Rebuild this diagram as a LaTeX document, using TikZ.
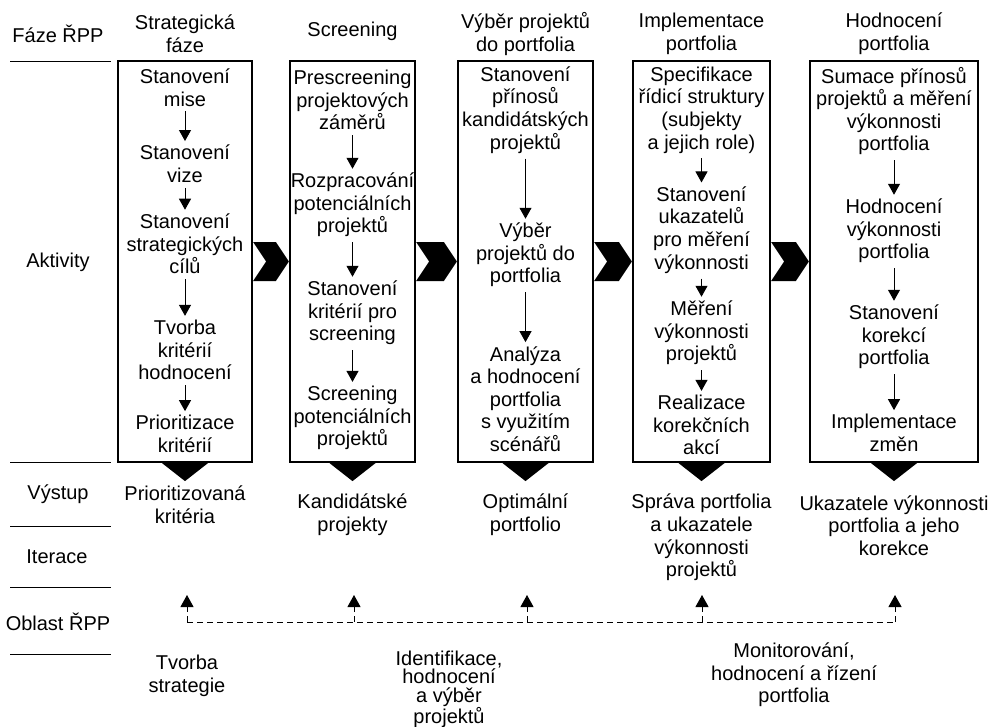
\documentclass[tikz,border=0pt]{standalone}
\usepackage{fontspec}
\setmainfont{Liberation Sans}
\usetikzlibrary{arrows.meta,calc}
\begin{document}
\begin{tikzpicture}[x=1pt,y=-1pt,
  txt/.style={align=center,inner sep=0pt,font=\fontsize{20}{22.6}\selectfont},
  tighttxt/.style={align=center,inner sep=0pt,font=\fontsize{20}{18.5}\selectfont},
  stage/.style={draw,line width=2.2pt,inner sep=0pt},
  flow/.style={line width=1pt,-{Triangle[width=12pt,length=11pt]},shorten <=5pt,shorten >=4pt},
  sepline/.style={line width=1pt},
  fb/.style={line width=1pt,dash pattern=on 6pt off 4pt},
  fbarrow/.style={fb,-{Triangle[width=13pt,length=12pt]}}
]
\useasboundingbox (0,0) rectangle (992,727);

% left column
\node[txt] (h0) at (58,34) {Fáze ŘPP};
\node[txt] (l1) at (58,262) {Aktivity};
\node[txt] (l2) at (58,494) {Výstup};
\node[txt] (l3) at (57,557) {Iterace};
\node[txt] (l4) at (58,622) {Oblast ŘPP};
\draw[sepline] (10,62) -- (111,62);
\draw[sepline] (10,462) -- (111,462);
\draw[sepline] (10,526) -- (111,526);
\draw[sepline] (10,587) -- (111,587);
\draw[sepline] (10,654) -- (111,654);

% headers
\node[txt] (h1) at (185,34) {Strategická\\fáze};
\node[txt] (h2) at (352.5,31) {Screening};
\node[txt] (h3) at (525.5,34) {Výběr projektů\\do portfolia};
\node[txt] (h4) at (701.5,34) {Implementace\\portfolia};
\node[txt] (h5) at (894,34) {Hodnocení\\portfolia};

% boxes
\node[stage,minimum width=134pt,minimum height=401pt] (b1) at (185,261.5) {};
\node[stage,minimum width=125pt,minimum height=401pt] (b2) at (352.5,261.5) {};
\node[stage,minimum width=135pt,minimum height=401pt] (b3) at (525.5,261.5) {};
\node[stage,minimum width=137pt,minimum height=401pt] (b4) at (701.5,261.5) {};
\node[stage,minimum width=168pt,minimum height=401pt] (b5) at (894,261.5) {};

% chevrons
\foreach \p/\q in {b1/b2,b2/b3,b3/b4,b4/b5}{
  \fill ($(\p.east)+(0,-19.5)$) -- ($(\q.west)+(-13,-19.5)$) -- (\q.west)
        -- ($(\q.west)+(-13,19.5)$) -- ($(\p.east)+(0,19.5)$) -- ($(\p.east)+(13,0)$) -- cycle;
}

% output triangles
\foreach \b in {b1,b2,b3,b4,b5}{
  \fill (\b.south) ++(-23,0) -- ++(46,0) -- ++(-23,18) -- cycle;
}

% box 1
\node[txt] (a1) at (185,87.5) {Stanovení\\mise};
\node[txt] (a2) at (185,164) {Stanovení\\vize};
\node[txt] (a3) at (185,244) {Stanovení\\strategických\\cílů};
\node[txt] (a4) at (185,350) {Tvorba\\kritérií\\hodnocení};
\node[txt] (a5) at (185,434) {Prioritizace\\kritérií};
\draw[flow] (a1) -- (a2);
\draw[flow] (a2) -- (a3);
\draw[flow] (a3) -- (a4);
\draw[flow] (a4) -- (a5);

% box 2
\node[txt] (s1) at (352.5,100) {Prescreening\\projektových\\záměrů};
\node[txt] (s2) at (352.5,205) {Rozpracování\\potenciálních\\projektů};
\node[txt] (s3) at (352.5,313) {Stanovení\\kritérií pro\\screening};
\node[txt] (s4) at (352.5,418) {Screening\\potenciálních\\projektů};
\draw[flow] (s1) -- (s2);
\draw[flow] (s2) -- (s3);
\draw[flow] (s3) -- (s4);

% box 3
\node[txt] (v1) at (525.5,110) {Stanovení\\přínosů\\kandidátských\\projektů};
\node[txt] (v2) at (525.5,255) {Výběr\\projektů do\\portfolia};
\node[txt] (v3) at (525.5,399) {Analýza\\a hodnocení\\portfolia\\s využitím\\scénářů};
\draw[flow] (v1) -- (v2);
\draw[flow] (v2) -- (v3);

% box 4
\node[txt] (i1) at (701.5,110) {Specifikace\\řídicí struktury\\(subjekty\\a jejich role)};
\node[txt] (i2) at (701.5,230) {Stanovení\\ukazatelů\\pro měření\\výkonnosti};
\node[txt] (i3) at (701.5,333) {Měření\\výkonnosti\\projektů};
\node[txt] (i4) at (701.5,425) {Realizace\\korekčních\\akcí};
\draw[flow] (i1) -- (i2);
\draw[flow] (i2) -- (i3);
\draw[flow] (i3) -- (i4);

% box 5
\node[txt] (e1) at (894,111) {Sumace přínosů\\projektů a měření\\výkonnosti\\portfolia};
\node[txt] (e2) at (894,231) {Hodnocení\\výkonnosti\\portfolia};
\node[txt] (e3) at (894,337) {Stanovení\\korekcí\\portfolia};
\node[txt] (e4) at (894,433) {Implementace\\změn};
\draw[flow] (e1) -- (e2);
\draw[flow] (e2) -- (e3);
\draw[flow] (e3) -- (e4);

% outputs
\node[txt] (o1) at (185,505) {Prioritizovaná\\kritéria};
\node[txt] (o2) at (352.5,515) {Kandidátské\\projekty};
\node[txt] (o3) at (525.5,515) {Optimální\\portfolio};
\node[txt] (o4) at (701.5,537.5) {Správa portfolia\\a ukazatele\\výkonnosti\\projektů};
\node[txt] (o5) at (894,525.5) {Ukazatele výkonnosti\\portfolia a jeho\\korekce};

% feedback
\coordinate (f1) at (187,622); \coordinate (t1) at (187,595);
\coordinate (f2) at (354,622); \coordinate (t2) at (354,595);
\coordinate (f3) at (527,622); \coordinate (t3) at (527,595);
\coordinate (f4) at (702,622); \coordinate (t4) at (702,595);
\coordinate (f5) at (895,622); \coordinate (t5) at (895,595);
\draw[fb] (f1) -- (f5);
\foreach \i in {1,...,5}{ \draw[fbarrow] (f\i) -- (t\i); }

% areas
\node[txt] (r1) at (187,676) {Tvorba\\strategie};
\node[tighttxt] (r2) at (449,689) {Identifikace,\\hodnocení\\a výběr\\projektů};
\node[txt] (r3) at (794,675) {Monitorování,\\hodnocení a řízení\\portfolia};
\end{tikzpicture}
\end{document}
